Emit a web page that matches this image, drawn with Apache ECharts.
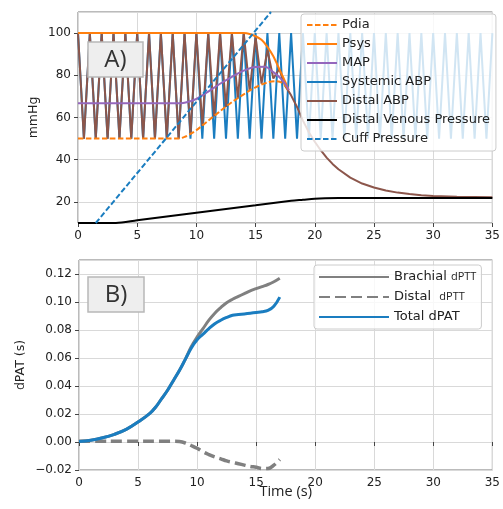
<!DOCTYPE html>
<html><head><meta charset="utf-8">
<script src="https://cdn.jsdelivr.net/npm/echarts@6/dist/echarts.min.js"></script>
<style>html,body{margin:0;padding:0;background:#fff}#c{width:503px;height:509px}</style>
</head><body><div id="c"></div>
<script>
// ---------- Panel A data (time in s, pressure in mmHg) ----------
const sysTime = [0,0.5,1,1.5,2,2.5,3,3.5,4,4.5,5,5.5,6,6.5,7,7.5,8,8.5,9,9.5,10,10.5,11,11.5,12,12.5,13,13.5,14,14.5,15,15.5,16,16.5,17,17.5,18,18.5,19,19.5,20,20.5,21,21.5,22,22.5,23,23.5,24,24.5,25,25.5,26,26.5,27,27.5,28,28.5,29,29.5,30,30.5,31,31.5,32,32.5,33,33.5,34,34.5,35];
const systemicABP = [100,50,100,50,100,50,100,50,100,50,100,50,100,50,100,50,100,50,100,50,100,50,100,50,100,50,100,50,100,50,100,50,100,50,100,50,100,50,100,50,100,50,100,50,100,50,100,50,100,50,100,50,100,50,100,50,100,50,100,50,100,50,100,50,100,50,100,50,100,50,100];

const distTime = [0,0.5,1,1.5,2,2.5,3,3.5,4,4.5,5,5.5,6,6.5,7,7.5,8,8.5,9,9.5,10,10.5,11,11.5,12,12.5,13,13.5,14,14.5,15,15.5,16,16.5,17,17.5,18,18.5,19,19.5,20,20.5,21,21.5,22,23,24,25,26,27,28,29,30,32,35];
const distalABP = [100,50,100,50,100,50,100,50,100,50,100,50,100,50,100,50,100,50,100,52,100,56,100,60.5,100,65,100,69,100,72.5,98,76,92,78.5,83,75,70.5,65,58.5,53,48.5,44.5,41,38,35.5,31.5,28.7,26.8,25.4,24.4,23.7,23.2,22.8,22.4,22.2];

const pdiaTime = [0,8.5,9,9.5,10,11,12,13,14,15,16,16.7,17.3,17.8];
const pdia     = [50,50,50.8,52.2,54,58.5,63,67.3,71,74.3,76.6,77.2,76.3,73];

const psysTime = [0,14,14.5,15,15.5,16,16.5,17,17.5,17.8];
const psys     = [100,100,99.6,98.5,96.8,93.5,89,83,77,73];

const mapTime = [0,8.5,9,9.5,10,11,12,13,14,15,15.8,16.5,17,17.5,17.8];
const mapVals = [66.7,66.7,67,67.7,68.8,72.3,76,79.3,82.2,83.9,84,81.5,79.2,76,73];

const venTime = [0,3.2,5,10,15,18,19,20,22,25,35];
const venous  = [10,10,11.3,14.9,18.4,20.5,21,21.5,21.8,21.9,21.9];

const cuffTime = [1.5,16.3];
const cuff     = [10,110];

// ---------- Panel B data (time in s, dPAT in s) ----------
const bTime = [0,1,2,3,4,5,6,6.5,7,7.5,8,8.5,9,9.5,10,10.5,11,11.5,12,12.5,13,13.5,14,14.5,15,15.5,16,16.5,17];
const totalDPAT   = [0.0003,0.0012,0.003,0.0055,0.009,0.0143,0.0205,0.025,0.031,0.037,0.044,0.051,0.059,0.067,0.073,0.077,0.081,0.0845,0.087,0.089,0.0905,0.091,0.0915,0.092,0.0925,0.093,0.094,0.097,0.1035];
const brachialDPTT= [0.0003,0.0012,0.003,0.0055,0.009,0.0143,0.0205,0.025,0.031,0.037,0.044,0.051,0.059,0.068,0.075,0.081,0.087,0.092,0.096,0.0995,0.102,0.104,0.106,0.108,0.1095,0.111,0.1125,0.1145,0.117];
const distalDPTT  = [0.0005,0.0005,0.0005,0.0005,0.0005,0.0005,0.0005,0.0005,0.0005,0.0005,0.0005,0.0003,-0.0007,-0.0025,-0.0045,-0.007,-0.009,-0.0107,-0.012,-0.0135,-0.0145,-0.0155,-0.0165,-0.0175,-0.018,-0.019,-0.019,-0.0165,-0.0125];

const xTicksMax = 35;

const zip = (a, b) => a.map((v, i) => [v, b[i]]);
const BLUE = '#1a7dc0', ORANGE = '#ff7f0e', PURPLE = '#9467bd', BROWN = '#8c564b', GRAY = '#808080';
const FONT = 'DejaVu Sans';

const chart = echarts.init(document.getElementById('c'), null, {renderer: 'canvas'});

const axisCommon = {
  axisLine: {show: false},
  axisTick: {show: true, length: 4, inside: false, lineStyle: {color: '#444', width: 1}},
  axisLabel: {color: '#222', fontFamily: FONT, fontSize: 12},
  splitLine: {show: true, lineStyle: {color: '#d9d9d9', width: 1}}
};

function line(name, x, y, t, color, width, dashed, z) {
  return {
    name, type: 'line', xAxisIndex: x, yAxisIndex: y, data: t, symbol: 'none', color,
    lineStyle: {color, width, type: dashed || 'solid'}, z: z || 2, animation: false
  };
}

const option = {
  animation: false,
  backgroundColor: '#fff',
  grid: [
    {left: 78, top: 12, width: 418, height: 211, show: true, borderColor: '#777', borderWidth: 1},
    {left: 79, top: 260, width: 419, height: 210, show: true, borderColor: '#777', borderWidth: 1}
  ],
  xAxis: [
    Object.assign({}, axisCommon, {type: 'value', gridIndex: 0, min: 0, max: xTicksMax, interval: 5,
      axisLabel: Object.assign({}, axisCommon.axisLabel, {margin: 7})}),
    Object.assign({}, axisCommon, {type: 'value', gridIndex: 1, min: 0, max: xTicksMax, interval: 5,
      axisLabel: Object.assign({}, axisCommon.axisLabel, {margin: 7}),
      name: 'Time (s)', nameLocation: 'middle', nameGap: 14, nameMoveOverlap: false,
      nameTextStyle: {fontFamily: 'Open Sans', fontSize: 14.5, color: '#222', verticalAlign: 'top'}})
  ],
  yAxis: [
    Object.assign({}, axisCommon, {type: 'value', gridIndex: 0, min: 10, max: 110, splitNumber: 5,
      minInterval: 20, maxInterval: 20,
      axisLabel: Object.assign({}, axisCommon.axisLabel, {margin: 7, showMinLabel: false, showMaxLabel: false}),
      name: 'mmHg', nameLocation: 'middle', nameGap: 38, nameMoveOverlap: false,
      nameTextStyle: {fontFamily: FONT, fontSize: 12.5, color: '#222'}}),
    Object.assign({}, axisCommon, {type: 'value', gridIndex: 1, min: -0.02, max: 0.13, interval: 0.02,
      axisLabel: Object.assign({}, axisCommon.axisLabel, {margin: 7, showMaxLabel: false,
        formatter: v => (v < -1e-9 ? '\u2212' : '') + Math.abs(v).toFixed(2)}),
      name: 'dPAT (s)', nameLocation: 'middle', nameGap: 52, nameMoveOverlap: false,
      nameTextStyle: {fontFamily: FONT, fontSize: 12.5, color: '#222'}})
  ],
  legend: [
    {
      data: ['Pdia','Psys','MAP','Systemic ABP','Distal ABP','Distal Venous Pressure','Cuff Pressure'],
      orient: 'vertical', left: 301, top: 14, padding: [4, 6, 5, 5],
      itemWidth: 30, itemHeight: 14, itemGap: 5,
      itemStyle: {opacity: 0},
      backgroundColor: 'rgba(255,255,255,0.8)', borderColor: '#cccccc', borderWidth: 1, borderRadius: 3,
      textStyle: {fontFamily: FONT, fontSize: 13, color: '#222', lineHeight: 14},
      selectedMode: false
    },
    {
      data: ['Brachial dPTT','Distal dPTT','Total dPAT'],
      orient: 'vertical', left: 314, top: 265, padding: [5, 5, 5, 4],
      itemWidth: 70, itemHeight: 14, itemGap: 6,
      itemStyle: {opacity: 0},
      backgroundColor: 'rgba(255,255,255,0.8)', borderColor: '#cccccc', borderWidth: 1, borderRadius: 3,
      textStyle: {fontFamily: FONT, fontSize: 13, color: '#222', lineHeight: 14,
        rich: {s: {fontFamily: 'Open Sans', fontSize: 11, color: '#222', lineHeight: 14}}},
      formatter: n => n === 'Brachial dPTT' ? 'Brachial {s|dPTT}' : (n === 'Distal dPTT' ? 'Distal  {s|dPTT}' : n),
      selectedMode: false
    }
  ],
  graphic: [
    {type: 'rect', shape: {x: 88, y: 42, width: 55, height: 35}, style: {fill: '#eeeeee', stroke: '#b8b8b8', lineWidth: 1.5}, z: 10},
    {type: 'text', x: 115.5, y: 60, style: {text: 'A)', font: '24px "Open Sans"', fill: '#333', textAlign: 'center', textVerticalAlign: 'middle'}, z: 11},
    {type: 'rect', shape: {x: 88, y: 277, width: 56, height: 35}, style: {fill: '#eeeeee', stroke: '#b8b8b8', lineWidth: 1.5}, z: 10},
    {type: 'text', x: 116, y: 295, style: {text: 'B)', font: '24px "Open Sans"', fill: '#333', textAlign: 'center', textVerticalAlign: 'middle'}, z: 11}
  ],
  series: [
    line('Systemic ABP', 0, 0, zip(sysTime, systemicABP), BLUE, 2),
    line('Distal ABP', 0, 0, zip(distTime, distalABP), BROWN, 2),
    Object.assign(line('Pdia', 0, 0, zip(pdiaTime, pdia), ORANGE, 2, [5.5, 2.5]), {smooth: 0.3}),
    Object.assign(line('Psys', 0, 0, zip(psysTime, psys), ORANGE, 2), {smooth: 0.3}),
    Object.assign(line('MAP', 0, 0, zip(mapTime, mapVals), PURPLE, 2), {smooth: 0.3}),
    Object.assign(line('Distal Venous Pressure', 0, 0, zip(venTime, venous), '#000000', 2), {smooth: 0.3}),
    line('Cuff Pressure', 0, 0, zip(cuffTime, cuff), BLUE, 2, [5.5, 2.5]),
    Object.assign(line('Brachial dPTT', 1, 1, zip(bTime, brachialDPTT), GRAY, 3), {smooth: 0.4}),
    Object.assign(line('Distal dPTT', 1, 1, zip(bTime, distalDPTT), GRAY, 3.5, [11, 5]), {smooth: 0.4}),
    Object.assign(line('Total dPAT', 1, 1, zip(bTime, totalDPAT), BLUE, 3), {smooth: 0.4})
  ]
};
chart.setOption(option);
</script></body></html>
